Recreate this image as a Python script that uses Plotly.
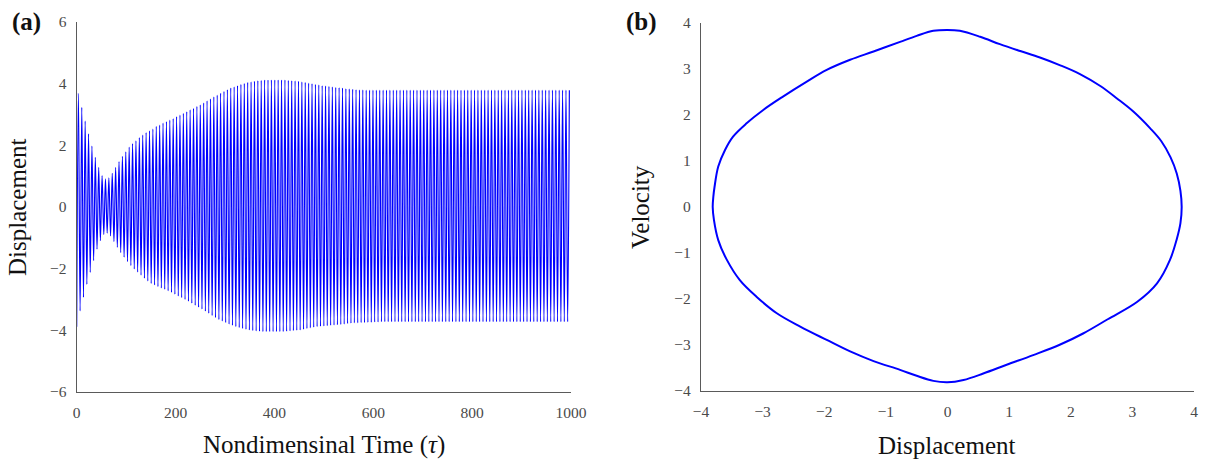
import plotly.graph_objects as go

# ---- (a) time history: per-cycle extrema of the displacement ----
cycle_period = 6.85  # nondimensional time between successive troughs

trough_values = [
    -3.88, -3.37, -2.93, -2.51, -2.12, -1.74, -1.37, -1.09, -0.89, -0.85,
    -0.94, -1.12, -1.31, -1.48, -1.63, -1.77, -1.90, -2.01, -2.11, -2.21,
    -2.31, -2.40, -2.48, -2.53, -2.58, -2.63, -2.67, -2.72, -2.77, -2.83,
    -2.89, -2.94, -3.00, -3.06, -3.12, -3.19, -3.25, -3.31, -3.38, -3.45,
    -3.52, -3.59, -3.65, -3.70, -3.75, -3.80, -3.84, -3.88, -3.91, -3.94,
    -3.97, -3.99, -4.01, -4.02, -4.03, -4.04, -4.04, -4.04, -4.04, -4.04,
    -4.04, -4.04, -4.03, -4.02, -4.01, -4.00, -3.99, -3.97, -3.94, -3.92,
    -3.90, -3.88, -3.87, -3.86, -3.85, -3.84, -3.83, -3.82, -3.81, -3.80,
    -3.78, -3.77, -3.76, -3.76, -3.75, -3.75, -3.74, -3.74, -3.73, -3.73,
    -3.72, -3.72, -3.72, -3.72, -3.72, -3.72, -3.72, -3.72, -3.72, -3.72,
    -3.72, -3.72, -3.72, -3.72, -3.72, -3.72, -3.72, -3.72, -3.72, -3.72,
    -3.72, -3.72, -3.72, -3.72, -3.72, -3.72, -3.72, -3.72, -3.72, -3.72,
    -3.72, -3.72, -3.72, -3.72, -3.72, -3.72, -3.72, -3.72, -3.72, -3.72,
    -3.72, -3.72, -3.72, -3.72, -3.72, -3.72, -3.72, -3.72, -3.72, -3.72,
    -3.72, -3.72, -3.72, -3.72, -3.72, -3.72,
]

peak_values = [
    3.69, 3.23, 2.79, 2.37, 1.98, 1.61, 1.29, 1.02, 0.91, 0.95,
    1.09, 1.29, 1.47, 1.64, 1.79, 1.94, 2.06, 2.15, 2.25, 2.33,
    2.41, 2.47, 2.53, 2.62, 2.66, 2.72, 2.77, 2.82, 2.87, 2.93,
    2.98, 3.04, 3.09, 3.15, 3.20, 3.26, 3.31, 3.38, 3.44, 3.51,
    3.57, 3.63, 3.69, 3.75, 3.81, 3.86, 3.90, 3.94, 3.98, 4.01,
    4.04, 4.06, 4.08, 4.10, 4.11, 4.12, 4.12, 4.12, 4.12, 4.12,
    4.12, 4.12, 4.11, 4.10, 4.09, 4.08, 4.06, 4.04, 4.02, 4.00,
    3.98, 3.96, 3.94, 3.93, 3.91, 3.90, 3.88, 3.87, 3.86, 3.84,
    3.83, 3.82, 3.81, 3.80, 3.80, 3.79, 3.79, 3.79, 3.79, 3.79,
    3.79, 3.79, 3.79, 3.79, 3.79, 3.79, 3.79, 3.79, 3.79, 3.79,
    3.79, 3.79, 3.79, 3.79, 3.79, 3.79, 3.79, 3.79, 3.79, 3.79,
    3.79, 3.79, 3.79, 3.79, 3.79, 3.79, 3.79, 3.79, 3.79, 3.79,
    3.79, 3.79, 3.79, 3.79, 3.79, 3.79, 3.79, 3.79, 3.79, 3.79,
    3.79, 3.79, 3.79, 3.79, 3.79, 3.79, 3.79, 3.79, 3.79, 3.79,
    3.79, 3.79, 3.79, 3.79, 3.79, 3.79,
]

# ---- (b) limit cycle in the phase plane (closed loop, clockwise) ----
phase_disp = [
    -3.81, -3.80, -3.78, -3.72, -3.61, -3.48, -3.26, -2.99, -2.67, -2.29,
    -1.96, -1.58, -1.20, -0.77, -0.50, -0.23, 0.00, 0.20, 0.53, 0.85,
    1.18, 1.50, 1.83, 2.15, 2.48, 2.75, 3.02, 3.29, 3.47, 3.62,
    3.72, 3.78, 3.80, 3.78, 3.72, 3.61, 3.40, 3.08, 2.60, 2.20,
    1.83, 1.39, 0.96, 0.58, 0.26, 0.00, -0.23, -0.50, -0.77, -1.20,
    -1.58, -1.96, -2.39, -2.77, -3.10, -3.37, -3.58, -3.72, -3.79, -3.81,
]
phase_vel = [
    0.00, 0.22, 0.44, 0.88, 1.24, 1.53, 1.82, 2.11, 2.40, 2.72,
    2.98, 3.20, 3.38, 3.59, 3.72, 3.83, 3.85, 3.83, 3.70, 3.54,
    3.39, 3.25, 3.08, 2.89, 2.63, 2.36, 2.07, 1.71, 1.43, 1.08,
    0.73, 0.35, 0.00, -0.35, -0.70, -1.15, -1.66, -2.06, -2.44, -2.75,
    -2.99, -3.22, -3.43, -3.62, -3.76, -3.81, -3.78, -3.67, -3.54, -3.35,
    -3.14, -2.89, -2.60, -2.31, -1.95, -1.59, -1.15, -0.72, -0.28, 0.00,
]

left_x_ticks = [0, 200, 400, 600, 800, 1000]
left_y_ticks = [-6, -4, -2, 0, 2, 4, 6]
right_ticks = [-4, -3, -2, -1, 0, 1, 2, 3, 4]

# Interleave troughs and peaks into one time series
time_vals, disp_vals = [], []
for i, (lo, hi) in enumerate(zip(trough_values, peak_values)):
    time_vals += [i * cycle_period, (i + 0.5) * cycle_period]
    disp_vals += [lo, hi]

W, H = 1211, 460
SERIF = "Liberation Serif, Times New Roman, serif"
AXIS_GRAY = "#5a5a5a"
TICK_GRAY = "#4a4a4a"
BLUE = "#0000ff"

fig = go.Figure()
fig.add_trace(go.Scatter(
    x=time_vals, y=disp_vals, mode="lines",
    line=dict(color=BLUE, width=1.15, shape="spline", smoothing=1.0),
    xaxis="x", yaxis="y", showlegend=False, hoverinfo="skip",
))
fig.add_trace(go.Scatter(
    x=phase_disp, y=phase_vel, mode="lines",
    line=dict(color=BLUE, width=2, shape="spline", smoothing=1.0),
    xaxis="x2", yaxis="y2", showlegend=False, hoverinfo="skip",
))

axis_common = dict(
    showline=True, linecolor=AXIS_GRAY, linewidth=1.2,
    showgrid=False, zeroline=False, ticks="", automargin=False,
    tickfont=dict(family=SERIF, size=15.5, color=TICK_GRAY),
    fixedrange=True,
)

fig.update_layout(
    width=W, height=H,
    margin=dict(l=0, r=0, t=0, b=0, autoexpand=False),
    paper_bgcolor="white", plot_bgcolor="white",
    xaxis=dict(axis_common, domain=[76.7 / W, 571 / W], range=[0, 1000],
               tickvals=left_x_ticks, anchor="y", ticklabelstandoff=6),
    yaxis=dict(axis_common, domain=[1 - 392 / H, 1 - 22 / H], range=[-6, 6],
               tickvals=left_y_ticks, anchor="x", ticklabelstandoff=6),
    xaxis2=dict(axis_common, domain=[701 / W, 1194 / W], range=[-4, 4],
                tickvals=right_ticks, anchor="y2", ticklabelstandoff=6),
    yaxis2=dict(axis_common, domain=[1 - 391 / H, 1 - 23 / H], range=[-4, 4],
                tickvals=right_ticks, anchor="x2", ticklabelstandoff=6),
)

title_font = dict(family=SERIF, size=25, color="#111111")
annotations = [
    dict(text="Nondimensinal Time (<i>τ</i>)", x=324 / W, y=1 - 445 / H),
    dict(text="Displacement", x=18 / W, y=1 - 207 / H, textangle=-90),
    dict(text="Displacement", x=947 / W, y=1 - 445 / H),
    dict(text="Velocity", x=641 / W, y=1 - 207 / H, textangle=-90),
]
for a in annotations:
    fig.add_annotation(xref="paper", yref="paper", showarrow=False,
                       xanchor="center", yanchor="middle", font=title_font, **a)

panel_font = dict(family=SERIF, size=25, color="#111111")
fig.add_annotation(text="<b>(a)</b>", x=26 / W, y=1 - 22 / H, xref="paper", yref="paper",
                   showarrow=False, xanchor="center", yanchor="middle", font=panel_font)
fig.add_annotation(text="<b>(b)</b>", x=641 / W, y=1 - 22 / H, xref="paper", yref="paper",
                   showarrow=False, xanchor="center", yanchor="middle", font=panel_font)

fig.write_html("out.html")
